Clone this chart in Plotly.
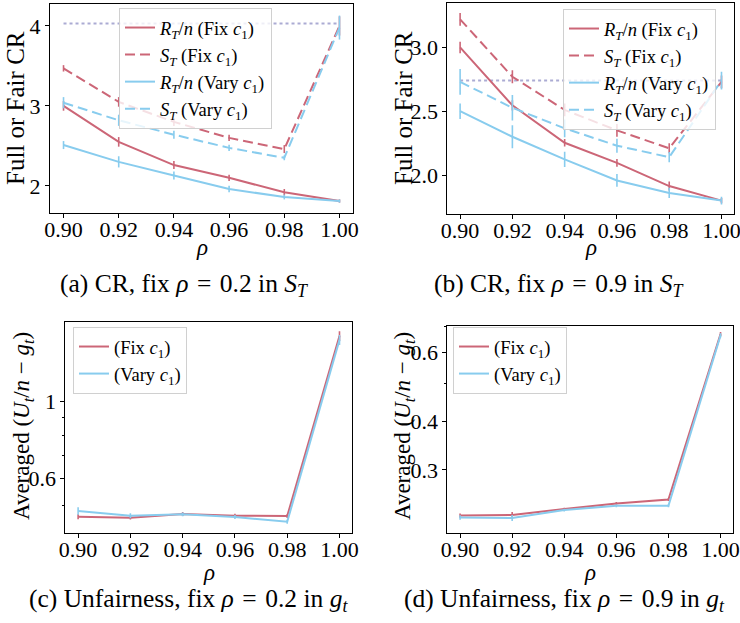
import plotly.graph_objects as go

# ---------------- data ----------------
rho = [0.90, 0.92, 0.94, 0.96, 0.98, 1.00]

# (a) CR, fix rho = 0.2 in S_T
a_rt_fix = [3.00, 2.55, 2.26, 2.10, 1.92, 1.81]
a_rt_fix_err = [0.06, 0.06, 0.05, 0.04, 0.04, 0.02]
a_st_fix = [3.47, 3.05, 2.80, 2.60, 2.46, 4.00]
a_st_fix_err = [0.04, 0.06, 0.05, 0.04, 0.05, 0.12]
a_rt_vary = [2.51, 2.30, 2.13, 1.96, 1.86, 1.81]
a_rt_vary_err = [0.05, 0.07, 0.05, 0.04, 0.03, 0.02]
a_st_vary = [3.04, 2.82, 2.64, 2.475, 2.35, 3.98]
a_st_vary_err = [0.07, 0.07, 0.05, 0.04, 0.03, 0.15]
a_bound = 4.03

# (b) CR, fix rho = 0.9 in S_T
b_rt_fix = [3.00, 2.546, 2.253, 2.096, 1.914, 1.80]
b_rt_fix_err = [0.045, 0.04, 0.03, 0.03, 0.035, 0.02]
b_st_fix = [3.22, 2.77, 2.51, 2.35, 2.21, 2.73]
b_st_fix_err = [0.05, 0.05, 0.05, 0.05, 0.04, 0.05]
b_rt_vary = [2.50, 2.30, 2.123, 1.958, 1.86, 1.80]
b_rt_vary_err = [0.06, 0.09, 0.06, 0.05, 0.04, 0.03]
b_st_vary = [2.73, 2.527, 2.366, 2.23, 2.14, 2.74]
b_st_vary_err = [0.10, 0.10, 0.07, 0.055, 0.04, 0.07]
b_bound = 2.74

# (c) Unfairness, fix rho = 0.2 in g_t
c_fix = [0.4645, 0.4616, 0.473, 0.4677, 0.4665, 1.55]
c_fix_err = [0.008, 0.006, 0.006, 0.006, 0.006, 0.05]
c_vary = [0.4826, 0.4677, 0.472, 0.4635, 0.4493, 1.51]
c_vary_err = [0.012, 0.008, 0.006, 0.006, 0.006, 0.05]

# (d) Unfairness, fix rho = 0.9 in g_t
d_fix = [0.229, 0.2298, 0.238, 0.246, 0.2517, 0.670]
d_fix_err = [0.003, 0.004, 0.002, 0.002, 0.002, 0.008]
d_vary = [0.2266, 0.2258, 0.2366, 0.2427, 0.2427, 0.665]
d_vary_err = [0.003, 0.004, 0.002, 0.002, 0.002, 0.008]

names_cr = [
    "<i>R<sub>T</sub></i>/<i>n</i> (Fix <i>c</i><sub>1</sub>)",
    "<i>S<sub>T</sub></i> (Fix <i>c</i><sub>1</sub>)",
    "<i>R<sub>T</sub></i>/<i>n</i> (Vary <i>c</i><sub>1</sub>)",
    "<i>S<sub>T</sub></i> (Vary <i>c</i><sub>1</sub>)",
]
names_unf = ["(Fix <i>c</i><sub>1</sub>)", "(Vary <i>c</i><sub>1</sub>)"]
EQ = "\u2004=\u2004"
captions = [
    "(a) CR, fix <i>ρ</i>" + EQ + "0.2 in <i>S<sub>T</sub></i>",
    "(b) CR, fix <i>ρ</i>" + EQ + "0.9 in <i>S<sub>T</sub></i>",
    "(c) Unfairness, fix <i>ρ</i>" + EQ + "0.2 in <i>g<sub>t</sub></i>",
    "(d) Unfairness, fix <i>ρ</i>" + EQ + "0.9 in <i>g<sub>t</sub></i>",
]

RED = "#CC6677"
BLUE = "#88CCEE"
BOUND = "#ABABD3"
FONT = "Liberation Serif"
W, H = 740, 623

fig = go.Figure()


def add(xa, ya, y, err, color, dash, name, legend, show=True):
    fig.add_trace(go.Scatter(
        x=rho, y=y, mode="lines", name=name, xaxis=xa, yaxis=ya,
        line=dict(color=color, width=2, dash=dash),
        error_y=dict(type="data", array=err, visible=True, color=color,
                     thickness=1.6, width=0),
        legend=legend, showlegend=show,
    ))


def add_bound(xa, ya, val):
    fig.add_trace(go.Scatter(
        x=[rho[0], rho[-1]], y=[val, val], mode="lines", xaxis=xa, yaxis=ya,
        line=dict(color=BOUND, width=2, dash="dot"), showlegend=False,
        hoverinfo="skip"))


DASH = "10px,5px"
# panel a
add_bound("x", "y", a_bound)
add("x", "y", a_rt_fix, a_rt_fix_err, RED, "solid", names_cr[0], "legend")
add("x", "y", a_st_fix, a_st_fix_err, RED, DASH, names_cr[1], "legend")
add("x", "y", a_rt_vary, a_rt_vary_err, BLUE, "solid", names_cr[2], "legend")
add("x", "y", a_st_vary, a_st_vary_err, BLUE, DASH, names_cr[3], "legend")
# panel b
add_bound("x2", "y2", b_bound)
add("x2", "y2", b_rt_fix, b_rt_fix_err, RED, "solid", names_cr[0], "legend2")
add("x2", "y2", b_st_fix, b_st_fix_err, RED, DASH, names_cr[1], "legend2")
add("x2", "y2", b_rt_vary, b_rt_vary_err, BLUE, "solid", names_cr[2], "legend2")
add("x2", "y2", b_st_vary, b_st_vary_err, BLUE, DASH, names_cr[3], "legend2")
# panel c
add("x3", "y3", c_fix, c_fix_err, RED, "solid", names_unf[0], "legend3")
add("x3", "y3", c_vary, c_vary_err, BLUE, "solid", names_unf[1], "legend3")
# panel d
add("x4", "y4", d_fix, d_fix_err, RED, "solid", names_unf[0], "legend4")
add("x4", "y4", d_vary, d_vary_err, BLUE, "solid", names_unf[1], "legend4")


def dom_x(a, b):
    return [a / W, b / W]


def dom_y(top, bottom):
    return [1 - bottom / H, 1 - top / H]


axis_common = dict(showline=True, linecolor="black", linewidth=1, mirror=True,
                   ticks="outside", ticklen=4, tickcolor="black", showgrid=False,
                   zeroline=False, automargin=False, ticklabeloverflow="allow",
                   tickfont=dict(family=FONT, size=22, color="black"))

xr = [0.8951, 1.0049]
xcommon = dict(axis_common, range=xr, tickvals=rho, ticktext=["%.2f" % v for v in rho],
               tickmode="array", ticklabelstandoff=-7)

layout_axes = dict(
    xaxis=dict(xcommon, domain=dom_x(50, 353), anchor="y"),
    yaxis=dict(axis_common, domain=dom_y(4, 213), anchor="x", range=[1.66, 4.275],
               tickvals=[2, 3, 4], ticktext=["2", "3", "4"], tickmode="array"),
    xaxis2=dict(xcommon, domain=dom_x(447.3, 734.3), anchor="y2"),
    yaxis2=dict(axis_common, domain=dom_y(2.7, 214), anchor="x2", range=[1.695, 3.35],
                tickvals=[2.0, 2.5, 3.0], ticktext=["2.0", "2.5", "3.0"], tickmode="array"),
    xaxis3=dict(xcommon, domain=dom_x(65.3, 352.3), anchor="y3"),
    yaxis3=dict(axis_common, domain=dom_y(321.7, 532.7), anchor="x3", type="log",
                range=[-0.3793, 0.2316], tickmode="array", tickvals=[0.6, 1],
                ticktext=["0.6", "1"],
                minor=dict(tickmode="array", tickvals=[0.5, 0.7, 0.8, 0.9],
                           ticks="outside", ticklen=2.5, tickcolor="black", showgrid=False)),
    xaxis4=dict(xcommon, domain=dom_x(447.3, 733.3), anchor="y4"),
    yaxis4=dict(axis_common, domain=dom_y(325.7, 532.7), anchor="x4", type="log",
                range=[-0.6841, -0.1524], tickmode="array", tickvals=[0.3, 0.4, 0.6],
                ticktext=["0.3", "0.4", "0.6"],
                minor=dict(tickmode="array", tickvals=[0.5, 0.7],
                           ticks="outside", ticklen=2.5, tickcolor="black", showgrid=False)),
)

leg_common = dict(bgcolor="rgba(255,255,255,0.8)", bordercolor="#d0d0d0", borderwidth=1,
                  font=dict(family=FONT, size=18.5, color="black"), xanchor="left",
                  yanchor="top", itemwidth=30, tracegroupgap=0)

fig.update_layout(
    template="none",
    width=W, height=H, margin=dict(l=0, r=0, t=0, b=0, autoexpand=False),
    paper_bgcolor="white", plot_bgcolor="white",
    font=dict(family=FONT, color="black"),
    legend=dict(leg_common, x=119 / W, y=1 - 8 / H),
    legend2=dict(leg_common, x=563 / W, y=1 - 9 / H),
    legend3=dict(leg_common, x=73 / W, y=1 - 327 / H),
    legend4=dict(leg_common, x=453 / W, y=1 - 327 / H),
    **layout_axes,
)


def ann(text, x, y, size, angle=0):
    fig.add_annotation(text=text, x=x / W, y=1 - y / H, xref="paper", yref="paper",
                       showarrow=False, textangle=angle, xanchor="center", yanchor="middle",
                       font=dict(family=FONT, size=size, color="black"))


ytitle_cr = "Full or Fair CR"
ytitle_unf = "Averaged (<i>U<sub>t</sub></i>/<i>n</i> − <i>g<sub>t</sub></i>)"
ann(ytitle_cr, 15, 108, 25, -90)
ann(ytitle_cr, 403, 108, 25, -90)
ann(ytitle_unf, 23, 426, 23, -90)
ann(ytitle_unf, 404, 426, 23, -90)
for xc, yc in [(201.5, 248), (590.8, 248), (208.8, 572), (590.3, 572)]:
    ann("<i>ρ</i>", xc, yc, 23)
ann(captions[0], 184, 285, 25.5)
ann(captions[1], 558, 285, 25.5)
ann(captions[2], 188, 600, 25.5)
ann(captions[3], 564, 600, 25.5)

fig.write_html(
    "out.html",
    config={"displayModeBar": False, "staticPlot": True},
    post_script="document.body.style.margin='0';document.body.style.padding='0';",
)
